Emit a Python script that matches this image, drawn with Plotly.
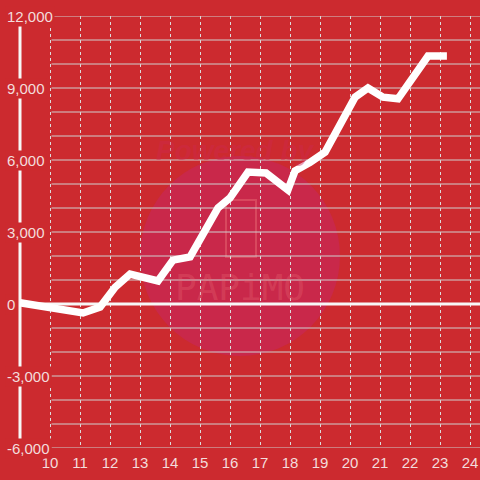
import plotly.graph_objects as go

# hour of day vs cumulative value
hours = [9.0, 11.1, 11.67, 12.17, 12.67, 13.6, 14.1, 14.67, 15.6, 16.0, 16.6,
         17.2, 17.93, 18.17, 18.67, 19.17, 20.17, 20.6, 21.1, 21.6, 22.6, 23.23]
values = [50, -375, -125, 700, 1250, 960, 1830, 1960, 4000, 4420, 5500,
          5460, 4750, 5550, 5900, 6330, 8620, 9000, 8620, 8550, 10330, 10330]

x_ticks = list(range(10, 25))
y_labels = [-6000, -3000, 0, 3000, 6000, 9000, 12000]
y_grid = list(range(-6000, 12001, 1000))

BG = "#cc2a2f"
GRID = "#cfcfcf"
LABEL = "#f3dcdc"
FONT = "Liberation Sans, Arial, sans-serif"

fig = go.Figure()
fig.add_trace(go.Scatter(
    x=hours, y=values, mode="lines",
    line=dict(color="white", width=7.5),
    hoverinfo="skip", showlegend=False,
))

shapes = []
# watermark circle + phone outline
shapes.append(dict(type="circle", xref="paper", yref="paper", layer="below",
                   x0=140 / 480, x1=340 / 480, y0=(448 - 356) / 432, y1=(448 - 156) / 432,
                   fillcolor="#c9284a", line=dict(width=0)))
shapes.append(dict(type="rect", xref="paper", yref="paper", layer="below",
                   x0=226 / 480, x1=256 / 480, y0=(448 - 257) / 432, y1=(448 - 200) / 432,
                   fillcolor="rgba(0,0,0,0)", line=dict(color="rgba(235,110,120,0.45)", width=2)))
# horizontal grid lines start at the first x tick
for v in y_grid:
    if v == 0:
        continue
    shapes.append(dict(type="line", xref="x", yref="y", layer="between",
                       x0=x_ticks[0] + 0.05, x1=24.4, y0=v, y1=v,
                       line=dict(color=GRID, width=1)))
# zero line and y axis line
shapes.append(dict(type="line", xref="x", yref="y", layer="between",
                   x0=9, x1=24.4, y0=0, y1=0, line=dict(color="#f7f7f7", width=3)))
shapes.append(dict(type="line", xref="x", yref="y", layer="between",
                   x0=9, x1=9, y0=-6000, y1=12000, line=dict(color="#f7f7f7", width=3)))

annotations = []
for v in y_labels:
    annotations.append(dict(
        x=0.01, xref="paper", y=v, yref="y", xanchor="left", yanchor="middle",
        text=f"{v:,}", showarrow=False, bgcolor=BG, borderpad=1,
        font=dict(family=FONT, size=15, color=LABEL),
    ))
# faint watermark text
annotations.append(dict(x=235 / 480, y=(448 - 133) / 432, xref="paper", yref="paper",
                        text="<b><i>Powered by</i></b>", showarrow=False,
                        font=dict(family=FONT, size=28, color="rgba(205,40,75,0.45)")))
annotations.append(dict(x=240 / 480, y=(448 - 287) / 432, xref="paper", yref="paper",
                        text="PAPiMO", showarrow=False,
                        font=dict(family="DejaVu Sans Mono, monospace", size=36,
                                  color="rgba(235,110,120,0.3)")))

fig.update_layout(
    width=480, height=480,
    margin=dict(l=0, r=0, t=16, b=32),
    paper_bgcolor=BG, plot_bgcolor=BG,
    shapes=shapes, annotations=annotations,
    xaxis=dict(range=[8.3333, 24.3333], tickvals=x_ticks, showgrid=True,
               gridcolor="#dcdcdc", griddash="3px,3px", gridwidth=1,
               zeroline=False, showline=False, ticks="outside", ticklen=1,
               tickcolor="rgba(0,0,0,0)", automargin=False,
               tickfont=dict(family=FONT, size=15, color=LABEL), fixedrange=True),
    yaxis=dict(range=[-6000, 12000], showgrid=False, zeroline=False, automargin=False,
               showticklabels=False, showline=False, ticks="", fixedrange=True),
)

fig.write_html("out.html", config={"displayModeBar": False},
               post_script="document.body.style.margin='0';")
